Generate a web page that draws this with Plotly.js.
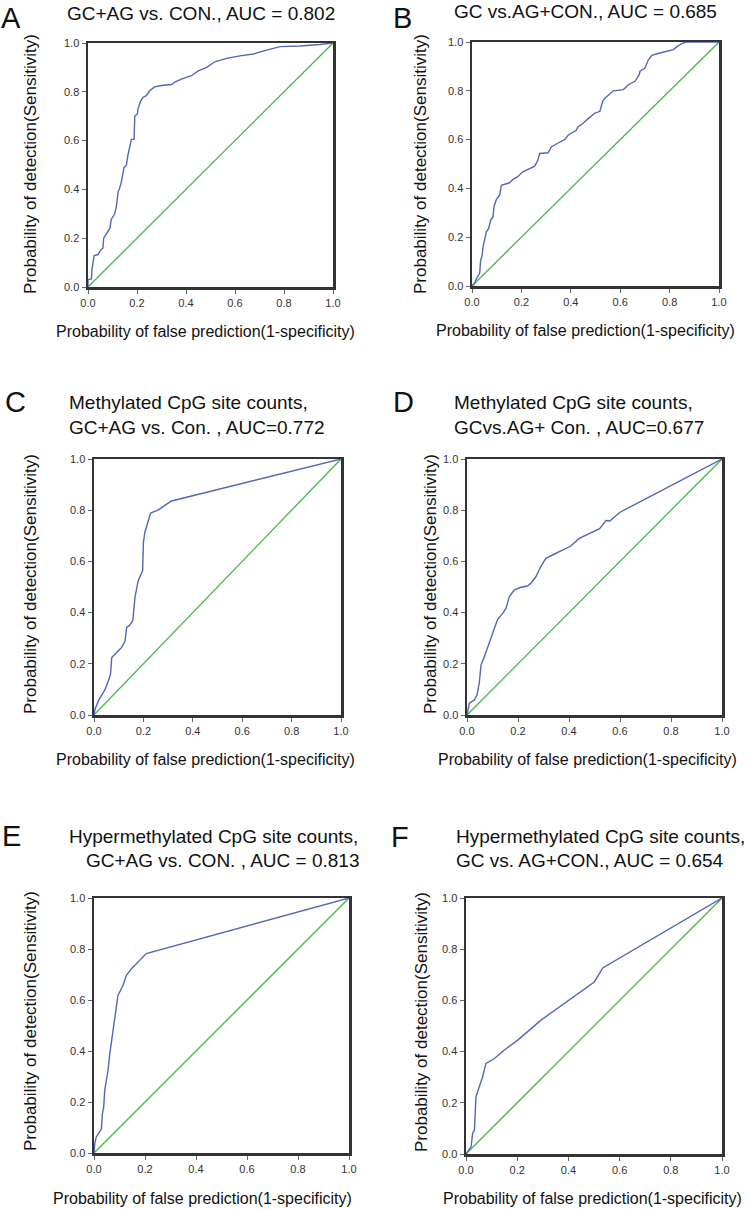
<!DOCTYPE html>
<html>
<head>
<meta charset="utf-8">
<script src="https://cdn.plot.ly/plotly-3.0.1.min.js"></script>
<style>html,body{margin:0;padding:0;background:#fff;}#chart{width:748px;height:1209px;}</style>
</head>
<body>
<div id="chart"></div>
<script>
// ---- Data ----
const tickVals = [0, 0.2, 0.4, 0.6, 0.8, 1.0];
const tickText = ['0.0', '0.2', '0.4', '0.6', '0.8', '1.0'];
const refX = [0, 1];
const refY = [0, 1];

// A: GC+AG vs. CON., AUC = 0.802
const aFpr = [0, 0, 0.014, 0.016, 0.025, 0.041, 0.048, 0.061, 0.064, 0.075, 0.089, 0.095, 0.109, 0.116, 0.123, 0.129, 0.136, 0.147, 0.157, 0.163, 0.17, 0.177, 0.188, 0.191, 0.202, 0.204, 0.215, 0.225, 0.238, 0.252, 0.272, 0.307, 0.341, 0.354, 0.381, 0.422, 0.45, 0.484, 0.518, 0.566, 0.62, 0.675, 0.729, 0.784, 0.865, 0.92, 0.947, 1];
const aTpr = [0, 0.03, 0.033, 0.07, 0.129, 0.133, 0.146, 0.16, 0.2, 0.22, 0.24, 0.277, 0.3, 0.33, 0.39, 0.405, 0.43, 0.49, 0.5, 0.54, 0.58, 0.605, 0.605, 0.7, 0.71, 0.73, 0.763, 0.777, 0.784, 0.804, 0.82, 0.827, 0.83, 0.84, 0.852, 0.866, 0.886, 0.9, 0.923, 0.937, 0.947, 0.955, 0.971, 0.985, 0.988, 0.99, 0.994, 1];

// B: GC vs.AG+CON., AUC = 0.685
const bFpr = [0, 0.011, 0.018, 0.031, 0.035, 0.04, 0.045, 0.051, 0.058, 0.067, 0.076, 0.085, 0.089, 0.099, 0.112, 0.119, 0.132, 0.152, 0.166, 0.184, 0.206, 0.233, 0.254, 0.267, 0.274, 0.308, 0.321, 0.345, 0.375, 0.389, 0.422, 0.429, 0.449, 0.47, 0.498, 0.518, 0.529, 0.538, 0.559, 0.572, 0.613, 0.633, 0.66, 0.677, 0.68, 0.7, 0.714, 0.728, 0.761, 0.788, 0.815, 0.831, 0.855, 0.869, 1];
const bTpr = [0, 0.011, 0.031, 0.052, 0.106, 0.12, 0.161, 0.188, 0.222, 0.235, 0.27, 0.284, 0.325, 0.355, 0.372, 0.413, 0.417, 0.423, 0.437, 0.447, 0.468, 0.482, 0.491, 0.516, 0.543, 0.546, 0.57, 0.584, 0.6, 0.618, 0.638, 0.652, 0.666, 0.686, 0.709, 0.716, 0.757, 0.77, 0.787, 0.8, 0.805, 0.825, 0.839, 0.866, 0.88, 0.893, 0.927, 0.945, 0.955, 0.962, 0.969, 0.982, 0.996, 1, 1];

// C: Methylated CpG site counts, GC+AG vs. Con., AUC=0.772
const cFpr = [0, 0.004, 0.018, 0.031, 0.045, 0.058, 0.067, 0.072, 0.092, 0.112, 0.126, 0.132, 0.143, 0.157, 0.166, 0.179, 0.197, 0.2, 0.206, 0.22, 0.229, 0.254, 0.267, 0.294, 0.314, 1];
const cTpr = [0, 0.023, 0.056, 0.076, 0.1, 0.134, 0.16, 0.225, 0.245, 0.264, 0.29, 0.342, 0.349, 0.368, 0.46, 0.525, 0.564, 0.674, 0.714, 0.759, 0.789, 0.798, 0.805, 0.824, 0.836, 1];

// D: Methylated CpG site counts, GCvs.AG+ Con., AUC=0.677
const dFpr = [0, 0.003, 0.009, 0.029, 0.039, 0.048, 0.055, 0.068, 0.087, 0.1, 0.12, 0.14, 0.153, 0.166, 0.185, 0.211, 0.237, 0.25, 0.27, 0.289, 0.309, 0.335, 0.361, 0.381, 0.407, 0.44, 0.48, 0.52, 0.545, 0.56, 0.6, 1];
const dTpr = [0, 0.02, 0.046, 0.059, 0.078, 0.124, 0.195, 0.228, 0.28, 0.319, 0.374, 0.397, 0.417, 0.462, 0.488, 0.499, 0.504, 0.514, 0.54, 0.579, 0.612, 0.625, 0.638, 0.65, 0.66, 0.69, 0.71, 0.728, 0.76, 0.758, 0.792, 1];

// E: Hypermethylated CpG site counts, GC+AG vs. CON., AUC = 0.813
const eFpr = [0, 0.003, 0.009, 0.022, 0.029, 0.033, 0.038, 0.042, 0.048, 0.055, 0.062, 0.075, 0.094, 0.114, 0.127, 0.147, 0.173, 0.205, 1];
const eTpr = [0, 0.037, 0.063, 0.082, 0.095, 0.154, 0.18, 0.246, 0.285, 0.324, 0.39, 0.481, 0.618, 0.658, 0.697, 0.723, 0.749, 0.782, 1];

// F: Hypermethylated CpG site counts, GC vs. AG+CON., AUC = 0.654
const fFpr = [0, 0.02, 0.026, 0.033, 0.039, 0.052, 0.065, 0.078, 0.111, 0.15, 0.202, 0.293, 0.384, 0.475, 0.501, 0.521, 0.534, 1];
const fTpr = [0, 0.029, 0.081, 0.094, 0.224, 0.263, 0.302, 0.354, 0.373, 0.406, 0.445, 0.523, 0.588, 0.653, 0.672, 0.705, 0.727, 1];

const panelLetters = ['A', 'B', 'C', 'D', 'E', 'F'];
const titleLine1 = ['GC+AG vs. CON., AUC = 0.802', 'GC vs.AG+CON., AUC = 0.685',
  'Methylated CpG site counts,', 'Methylated CpG site counts,',
  'Hypermethylated CpG site counts,', 'Hypermethylated CpG site counts,'];
const titleLine2 = [null, null, 'GC+AG vs. Con. , AUC=0.772', 'GCvs.AG+ Con. , AUC=0.677',
  'GC+AG vs. CON. , AUC = 0.813', 'GC vs. AG+CON., AUC = 0.654'];
const xTitle = 'Probability of false prediction(1-specificity)';
const yTitle = 'Probability of detection(Sensitivity)';

const curves = [[aFpr, aTpr], [bFpr, bTpr], [cFpr, cTpr], [dFpr, dTpr], [eFpr, eTpr], [fFpr, fTpr]];

// ---- Layout geometry (pixels) ----
const W = 748, H = 1209;
const boxes = [ // left, right, top, bottom
  [88, 333, 43, 287], [472, 719, 42, 286],
  [94, 341, 459, 715], [467, 722, 459, 715],
  [94, 349, 898, 1153], [466, 722, 898, 1154]
];
const letterPos = [[11, 0], [402, 0], [15, 384], [403, 384], [11, 818], [400, 819]];
const t1Pos = [[65, 'left', 14], [452, 'left', 12], [67, 'left', 402], [452, 'left', 402], [67, 'left', 836], [454, 'left', 836]];
const t2Pos = [null, null, [67, 'left', 427], [452, 'left', 427], [362, 'right', 861], [454, 'left', 861]];
const yTitlePos = [[31, 164], [421, 164], [30, 584], [430, 584], [30, 1021], [421, 1022]];
const xTitlePos = [[205, 331], [585, 330], [205, 759], [587, 759], [203, 1198], [592, 1198]];

const FONT = 'Arial, "Liberation Sans", Helvetica, sans-serif';
const px = v => v / W;
const py = v => 1 - v / H;

const traces = [];
const layout = {
  width: W, height: H,
  margin: {l: 0, r: 0, t: 0, b: 0},
  paper_bgcolor: '#fff', plot_bgcolor: '#fff',
  showlegend: false,
  font: {family: FONT, color: '#111'},
  annotations: []
};

curves.forEach((c, i) => {
  const n = i === 0 ? '' : String(i + 1);
  const xa = 'x' + n, ya = 'y' + n;
  traces.push({x: refX, y: refY, xaxis: xa, yaxis: ya, mode: 'lines', type: 'scatter',
    line: {color: '#45b845', width: 1.3}, hoverinfo: 'skip'});
  traces.push({x: c[0], y: c[1], xaxis: xa, yaxis: ya, mode: 'lines', type: 'scatter',
    line: {color: '#5566b8', width: 1.4}, hoverinfo: 'skip'});
  const b = boxes[i];
  const common = {
    range: [0, 1], tickvals: tickVals, ticktext: tickText,
    showline: true, mirror: true, linecolor: '#333', linewidth: 2.5,
    ticks: 'outside', ticklen: 4, tickwidth: 1, tickcolor: '#666',
    tickfont: {family: FONT, size: 11, color: '#333'},
    showgrid: false, zeroline: false, fixedrange: true
  };
  layout['xaxis' + n] = Object.assign({}, common, {domain: [px(b[0]), px(b[1])], anchor: ya});
  layout['yaxis' + n] = Object.assign({}, common, {domain: [py(b[3]), py(b[2])], anchor: xa});

  const A = layout.annotations;
  A.push({text: panelLetters[i], x: px(letterPos[i][0]), y: py(letterPos[i][1]), xref: 'paper', yref: 'paper',
    xanchor: 'center', yanchor: 'top', showarrow: false, font: {family: FONT, size: 29, color: '#111'}});
  A.push({text: titleLine1[i], x: px(t1Pos[i][0]), y: py(t1Pos[i][2]), xref: 'paper', yref: 'paper',
    xanchor: t1Pos[i][1], yanchor: 'middle', showarrow: false, font: {family: FONT, size: 19, color: '#111'}});
  if (titleLine2[i]) {
    const p = t2Pos[i];
    A.push({text: titleLine2[i], x: px(p[0]), y: py(p[2]), xref: 'paper', yref: 'paper',
      xanchor: p[1], yanchor: 'middle', showarrow: false, font: {family: FONT, size: 19, color: '#111'}});
  }
  A.push({text: yTitle, x: px(yTitlePos[i][0]), y: py(yTitlePos[i][1]), xref: 'paper', yref: 'paper',
    xanchor: 'center', yanchor: 'middle', textangle: -90, showarrow: false, font: {family: FONT, size: 17, color: '#111'}});
  A.push({text: xTitle, x: px(xTitlePos[i][0]), y: py(xTitlePos[i][1]), xref: 'paper', yref: 'paper',
    xanchor: 'center', yanchor: 'middle', showarrow: false, font: {family: FONT, size: 16, color: '#111'}});
});

Plotly.newPlot('chart', traces, layout, {staticPlot: true, displayModeBar: false});
</script>
</body>
</html>
